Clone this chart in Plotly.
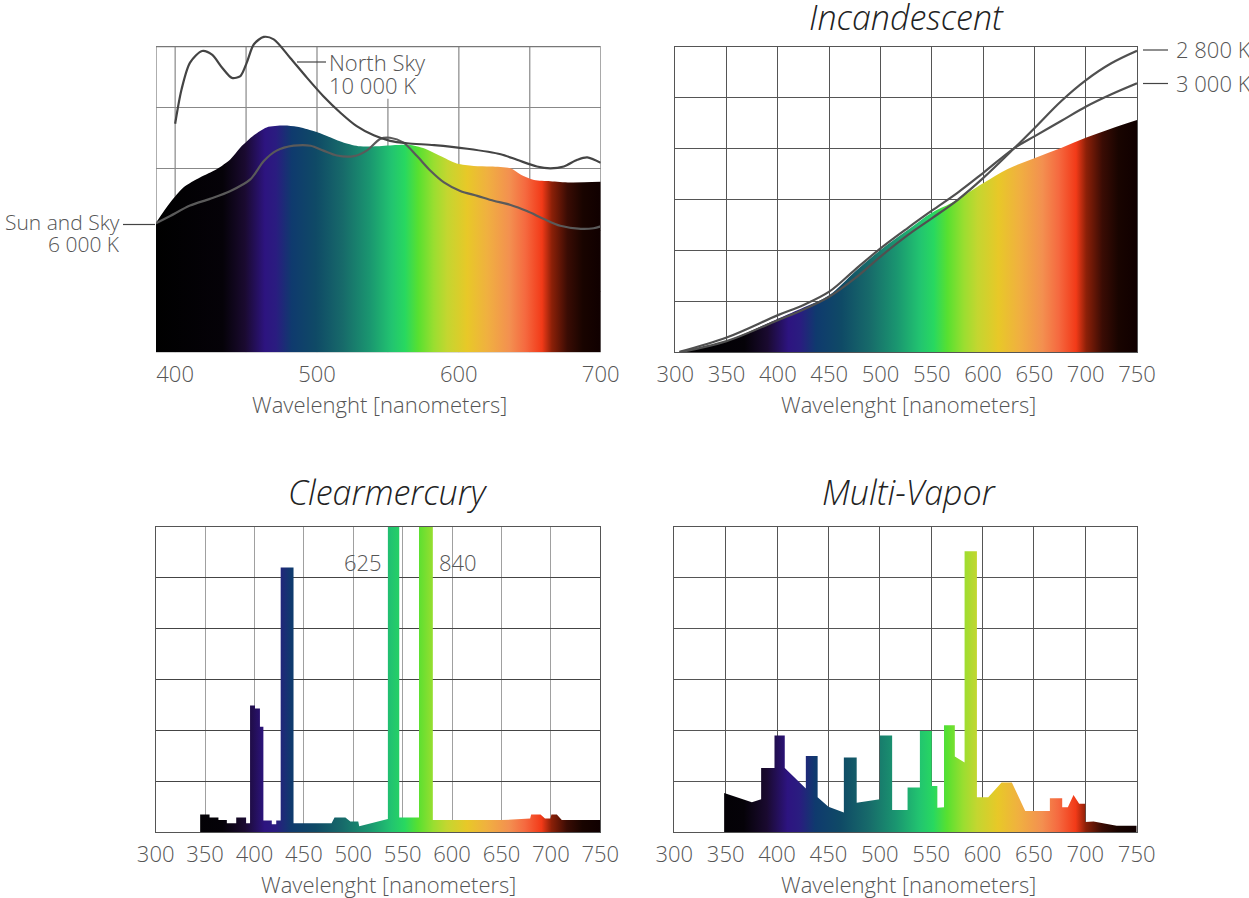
import plotly.graph_objects as go

W, H = 1249, 898

# ---------------- data (values: one grid step = 20) ----------------
# Top-left: daylight
day_fill_nm = [386.5, 396.5, 406, 417.5, 429.5, 439, 446, 455.5, 464.5, 476.5, 486, 497.5, 507, 519,
               530.5, 542.5, 556.5, 566, 577.5, 587, 598.5, 610.5, 622.5, 636.5, 643.5, 653, 664.5, 678.5, 700]
day_fill_val = [42.4, 49, 54, 57.2, 60, 63.2, 67, 71, 73.6, 74.2, 73.8, 72.4, 70.8, 68.6,
                67.4, 67.4, 67.8, 67.8, 66.4, 64.2, 61.8, 61, 60.8, 60.2, 58.2, 56.4, 56, 55.6, 55.8]

sun_sky_nm = [386.5, 396.5, 410.5, 424.5, 439, 453, 462.5, 471.5, 483.5, 495.5, 504.5, 514, 526, 535,
              544.5, 551.5, 561, 570.5, 580, 589.5, 601, 613, 624.5, 636.5, 648, 660, 671.5, 686, 695, 700]
sun_sky_val = [42.2, 44.6, 48, 50.2, 52.8, 56.6, 62.6, 66, 67.6, 67.6, 66, 64.4, 64.2, 66,
               69.8, 70.2, 68.6, 64.2, 59.4, 55.6, 52.8, 51.2, 49.6, 48.2, 46.2, 43.6, 41.4, 40.4, 40.6, 41.2]

north_sky_nm = [400, 404.5, 410.5, 419, 426, 433, 440, 446, 450.5, 455.5, 462.5, 469.5, 481, 493, 504.5,
                516.5, 528, 540, 551.5, 563.5, 582.5, 606, 629.5, 641, 655, 664.5, 674, 683.5, 690.5, 700]
north_sky_val = [74.8, 86, 94.8, 98.6, 97.4, 93.2, 89.8, 90.4, 94.8, 100.8, 103.2, 102.4, 96.4, 89.8, 83.8,
                 78.4, 74, 71, 69.2, 68.4, 67.8, 66.6, 64.8, 63, 60.8, 60.2, 60.8, 63, 63.8, 62]

# Top-right: incandescent
inc_nm = [304, 350, 400, 425, 450, 475, 500, 526.5, 550, 569, 600, 624, 650, 676, 700, 724.5, 750]
inc_fill_val = [0, 4.4, 13.2, 17.6, 22.4, 31.6, 40.2, 48, 54.8, 58.6, 66.4, 72, 76.2, 80.2, 84.2, 87.8, 91.2]
inc_line_nm = [304, 350, 400, 425, 450, 475, 500, 526.5, 550, 575, 600, 630.5, 650, 676, 700, 724.5, 750]
k3000_val = [0.2, 5.8, 14.6, 18.6, 23.8, 32.4, 40.8, 48.8, 55.6, 62.6, 70.4, 80.2, 84.8, 90.8, 96.4, 101.2, 105.6]
k2800_val = [0, 4.4, 12.6, 16.8, 21.8, 29, 37.6, 46, 52.6, 59.8, 68.4, 80.2, 88, 98.6, 106.8, 113.4, 118.4]

# Bottom-left: clear mercury (outline vertices)
cm_nm = [300, 345, 345, 354.5, 354.5, 363.5, 363.5, 372, 372, 381.5, 381.5, 391.5, 391.5, 395.5, 395.5,
         400.5, 400.5, 405.5, 405.5, 409, 409, 417.5, 417.5, 422, 422, 426.5, 426.5, 439.5, 439.5, 478,
         481, 492, 497, 505, 506, 535, 535, 546.5, 546.5, 566.5, 566.5, 580.5, 580.5, 650, 679, 680,
         689.5, 694, 699.5, 700.5, 706, 711, 750]
cm_val = [0, 0, 7, 7, 5.8, 5.8, 4.8, 4.8, 3.6, 3.6, 5.8, 5.8, 3.6, 3.6, 49.8,
          49.8, 48.6, 48.6, 41.4, 41.4, 4.6, 4.6, 3.2, 3.2, 4.6, 4.6, 104, 104, 3.6, 3.6,
          5.8, 5.8, 4.2, 4.2, 2.4, 5.2, 625, 625, 5.8, 5.8, 840, 840, 4.8, 4.8, 5.4, 7,
          7, 5.4, 5.4, 7, 7, 4.8, 4.8]
cm_peak_nm = [535, 580.5]
cm_peak_val = [625, 840]

# Bottom-right: multi-vapor (outline vertices)
mv_nm = [300, 348.5, 348.5, 375.5, 384.5, 384.5, 397.5, 397.5, 407.5, 407.5, 428, 428, 439.5, 439.5, 450,
         465, 465, 477.5, 477.5, 500, 500, 512, 512, 527, 527, 539, 539, 550.5, 550.5, 556, 556, 562.5,
         562.5, 573, 573, 582.5, 582.5, 594.5, 594.5, 605.5, 618.5, 628.5, 641.5, 665.5, 665.5, 677.5,
         677.5, 683, 688.5, 694, 700, 700, 708, 730.5, 750]
mv_val = [0, 0, 15.4, 11.8, 13, 25.2, 25.2, 38, 38, 25.2, 17.2, 30, 30, 13.8, 10,
          7.8, 29.4, 29.4, 11.6, 13, 38, 38, 8.8, 8.8, 17.6, 17.6, 39.8, 39.8, 18.2, 18.2, 9.6, 9.8,
          42, 42, 29.8, 27.4, 110.4, 110.4, 13.8, 13.8, 19.6, 19.6, 8.4, 8.4, 13.4, 13.4,
          9.8, 9.8, 14.6, 11.2, 11.2, 4, 4.2, 2.6, 2.6]

x_ticks_full = [300, 350, 400, 450, 500, 550, 600, 650, 700, 750]
x_ticks_day = [400, 500, 600, 700]
titles = ["Incandescent", "Clearmercury", "Multi-Vapor"]
x_title = "Wavelenght [nanometers]"

# ---------------- style ----------------
FONT = "Open Sans"
TXT = "#555555"
SPECTRUM = [
    [0.0, '#000000'], [0.15, '#050208'], [0.20, '#1a0a30'], [0.245, '#2d1480'], [0.27, '#2a1c80'],
    [0.305, '#0f3a6e'], [0.36, '#0f4a66'], [0.42, '#176a6a'], [0.48, '#1a9670'], [0.53, '#22c470'],
    [0.56, '#28d860'], [0.59, '#58e030'], [0.625, '#9ade30'], [0.655, '#c4d630'], [0.70, '#e8c828'],
    [0.745, '#f0b040'], [0.795, '#f39050'], [0.83, '#f56a40'], [0.868, '#f23a18'], [0.89, '#8c2008'],
    [0.925, '#3a0c04'], [0.96, '#180400'], [1.0, '#100000']
]

def px(x):
    return x / W

def py(y):
    return 1 - y / H

DAY_RANGE = [386.5, 700]
FULL_RANGE = [300, 750]

fig = go.Figure()

def grad(r):
    return dict(type='horizontal', colorscale=SPECTRUM, start=r[0], stop=r[1])

# top-left
fig.add_trace(go.Scatter(x=day_fill_nm, y=day_fill_val, mode='lines', line=dict(width=0, shape='spline', smoothing=0.8),
                         fill='tozeroy', fillgradient=grad(DAY_RANGE), xaxis='x', yaxis='y', hoverinfo='skip'))
fig.add_trace(go.Scatter(x=sun_sky_nm, y=sun_sky_val, mode='lines', line=dict(color='#5a5a5a', width=2.2, shape='spline', smoothing=0.8),
                         xaxis='x', yaxis='y'))
fig.add_trace(go.Scatter(x=north_sky_nm, y=north_sky_val, mode='lines', line=dict(color='#444444', width=2.2, shape='spline', smoothing=0.8),
                         xaxis='x', yaxis='y'))
# top-right
fig.add_trace(go.Scatter(x=inc_nm, y=inc_fill_val, mode='lines', line=dict(width=0, shape='spline', smoothing=1.0),
                         fill='tozeroy', fillgradient=grad(FULL_RANGE), xaxis='x2', yaxis='y2', hoverinfo='skip'))
fig.add_trace(go.Scatter(x=inc_line_nm, y=k3000_val, mode='lines', line=dict(color='#505050', width=2.2, shape='spline', smoothing=1.0),
                         xaxis='x2', yaxis='y2'))
fig.add_trace(go.Scatter(x=inc_line_nm, y=k2800_val, mode='lines', line=dict(color='#505050', width=2.2, shape='spline', smoothing=1.0),
                         xaxis='x2', yaxis='y2'))
# bottom-left
fig.add_trace(go.Scatter(x=cm_nm, y=cm_val, mode='lines', line=dict(width=0),
                         fill='tozeroy', fillgradient=grad(FULL_RANGE), xaxis='x3', yaxis='y3', hoverinfo='skip'))
# bottom-right
fig.add_trace(go.Scatter(x=mv_nm, y=mv_val, mode='lines', line=dict(width=0),
                         fill='tozeroy', fillgradient=grad(FULL_RANGE), xaxis='x4', yaxis='y4', hoverinfo='skip'))

tickfont = dict(family=FONT, size=22, color=TXT, weight=300)

def xax(domain, rng, ticks, anchor, gridcolor, showgrid=True, showline=True, standoff=2):
    return dict(domain=domain, range=rng, tickvals=ticks, anchor=anchor, showgrid=showgrid, gridcolor=gridcolor,
                gridwidth=1.2, zeroline=False, showline=showline, mirror=True, linecolor='#555555', linewidth=1.2,
                ticks='', tickfont=tickfont, fixedrange=True, automargin=False, ticklabelstandoff=standoff)

def yax(domain, rng, ticks, anchor, gridcolor, showline=True):
    return dict(domain=domain, range=rng, tickvals=ticks, anchor=anchor, showgrid=True, gridcolor=gridcolor,
                gridwidth=1.2, zeroline=False, showline=showline, mirror=True, linecolor='#555555', linewidth=1.2,
                showticklabels=False, ticks='', fixedrange=True, automargin=False)

top_y = [py(352.3), py(46.7)]
top_left_y = [py(352.3), py(46.7 - 5 * 3.056)]
bot_y = [py(832.3), py(526.7)]

fig.update_layout(
    template='none',
    xaxis=xax([px(156), px(600.7)], DAY_RANGE, x_ticks_day, 'y', '#888888', showgrid=False, showline=False, standoff=7),
    yaxis=yax(top_left_y, [0, 105], [20, 40, 60, 80], 'x', '#888888', showline=False),
    xaxis2=xax([px(675.3), px(1137)], FULL_RANGE, x_ticks_full, 'y2', '#555555'),
    yaxis2=yax(top_y, [0, 120], [20, 40, 60, 80, 100], 'x2', '#555555'),
    xaxis3=xax([px(155.7), px(600.3)], FULL_RANGE, x_ticks_full, 'y3', '#a0a0a0'),
    yaxis3=yax(bot_y, [0, 120], [20, 40, 60, 80, 100], 'x3', '#444444'),
    xaxis4=xax([px(674.3), px(1136.7)], FULL_RANGE, x_ticks_full, 'y4', '#555555'),
    yaxis4=yax(bot_y, [0, 120], [20, 40, 60, 80, 100], 'x4', '#555555'),
)

shapes = []
# top-left vertical gridlines (the 550 line stops below the North Sky label) and frame
for v in [400, 450, 500, 550, 600, 650]:
    top = 83 if v == 550 else 100
    shapes.append(dict(type='line', xref='x', yref='y', x0=v, x1=v, y0=0, y1=top,
                       line=dict(color='#888888', width=1.2), layer='below'))
shapes.append(dict(type='rect', xref='x', yref='y', x0=DAY_RANGE[0], x1=DAY_RANGE[1], y0=0, y1=100,
                   line=dict(color='#777777', width=1.2), layer='below'))
# leader lines
shapes.append(dict(type='line', xref='paper', yref='paper', x0=px(297), x1=px(326), y0=py(62), y1=py(62),
                   line=dict(color='#444444', width=1.2)))
shapes.append(dict(type='line', xref='paper', yref='paper', x0=px(123), x1=px(155), y0=py(224.5), y1=py(224.5),
                   line=dict(color='#444444', width=1.2)))
shapes.append(dict(type='line', xref='paper', yref='paper', x0=px(1143), x1=px(1168), y0=py(50), y1=py(50),
                   line=dict(color='#444444', width=1.2)))
shapes.append(dict(type='line', xref='paper', yref='paper', x0=px(1143), x1=px(1168), y0=py(83.5), y1=py(83.5),
                   line=dict(color='#444444', width=1.2)))
fig.update_layout(shapes=shapes)

lab = dict(family=FONT, size=22, color=TXT, weight=300)
lab_small = dict(family=FONT, size=21, color=TXT, weight=300)
ttl = dict(family=FONT, size=34, color='#222222', weight=300, style='italic')
ann = []
def a(text, x, y, xa='center', font=lab):
    ann.append(dict(text=text, x=px(x), y=py(y), xref='paper', yref='paper', xanchor=xa, yanchor='middle',
                    showarrow=False, font=font))

a("North Sky", 327, 62, 'left')
a("10 000 K", 327, 85, 'left')
a("Sun and Sky", 122, 222, 'right', font=lab_small)
a("6 000 K", 122, 244, 'right', font=lab_small)
a("2 800 K", 1174, 49, 'left')
a("3 000 K", 1174, 83, 'left')
a(titles[0], 906, 17, font=ttl)
a(titles[1], 388, 492, font=ttl)
a(titles[2], 909, 492, font=ttl)
a(x_title, 379, 404)
a(x_title, 908, 404)
a(x_title, 388, 884)
a(x_title, 908, 884)
ann.append(dict(text=f"{cm_peak_val[0]:g}", x=cm_peak_nm[0], y=106, xref='x3', yref='y3', xanchor='right',
                yanchor='middle', xshift=-4, showarrow=False, font=lab))
ann.append(dict(text=f"{cm_peak_val[1]:g}", x=cm_peak_nm[1], y=106, xref='x3', yref='y3', xanchor='left',
                yanchor='middle', xshift=4, showarrow=False, font=lab))
fig.update_layout(annotations=ann)

fig.update_layout(width=W, height=H, autosize=False, margin=dict(l=0, r=0, t=0, b=0, pad=0),
                  paper_bgcolor='white', plot_bgcolor='white', showlegend=False,
                  font=dict(family=FONT, color=TXT))

fig.write_html("out.html", config={'responsive': False, 'displayModeBar': False},
               post_script="document.body.style.margin='0';document.body.style.overflow='hidden';")
